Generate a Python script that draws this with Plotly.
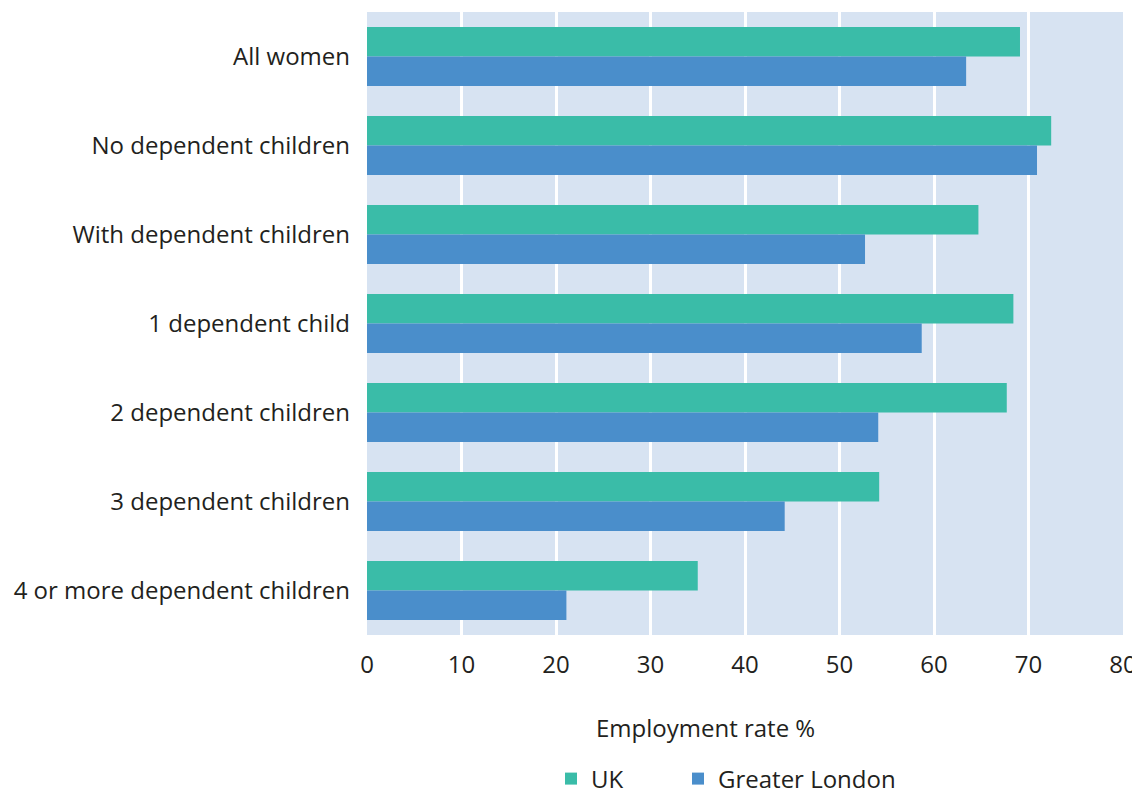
import plotly.graph_objects as go

categories = ["All women", "No dependent children", "With dependent children",
              "1 dependent child", "2 dependent children", "3 dependent children",
              "4 or more dependent children"]
uk = [69.1, 72.4, 64.7, 68.4, 67.7, 54.2, 35.0]
london = [63.4, 70.9, 52.7, 58.7, 54.1, 44.2, 21.1]
x_ticks = [0, 10, 20, 30, 40, 50, 60, 70, 80]

FONT = "Open Sans"
OFF = 8  # page body margin
W, H = 1140 - OFF, 793 - OFF
PL, PR, PT, PB = 367 - OFF, 1123 - OFF, 12 - OFF, 635 - OFF
PW, PH = PR - PL, PB - PT


def px_x(px):
    return (px - OFF - PL) / PW


def px_y(py):
    return -(py - OFF - PB) / PH


fig = go.Figure()
fig.add_trace(go.Bar(y=categories, x=uk, name="UK", orientation="h",
                     marker=dict(color="#3ABCA8", line=dict(width=0)),
                     legend="legend"))
fig.add_trace(go.Bar(y=categories, x=london, name="Greater London", orientation="h",
                     marker=dict(color="#4A8ECB", line=dict(width=0)),
                     legend="legend2"))

leg_common = dict(orientation="h", xanchor="left", yanchor="middle",
                  y=px_y(779), font=dict(size=24, family=FONT), itemwidth=30)
fig.update_layout(
    width=W, height=H,
    margin=dict(l=PL, r=W - PR, t=PT, b=H - PB, autoexpand=False),
    barmode="group", bargap=0.335, bargroupgap=0,
    plot_bgcolor="#D7E3F2", paper_bgcolor="white",
    font=dict(family=FONT, size=24, color="#231F20"),
    showlegend=True,
    legend=dict(x=px_x(551), **leg_common),
    legend2=dict(x=px_x(678), **leg_common),
    xaxis=dict(range=[0, 80], tickvals=x_ticks, showgrid=True, gridcolor="white",
               gridwidth=2.5, zeroline=False, showline=False,
               tickfont=dict(size=24, family=FONT), ticklabelstandoff=13),
    yaxis=dict(autorange="reversed", showgrid=False, zeroline=False,
               tickfont=dict(size=24, family=FONT), ticklabelstandoff=16),
)
fig.add_annotation(text="Employment rate %", xref="x domain", yref="y domain",
                   x=px_x(705), y=px_y(728),
                   xanchor="center", yanchor="middle", showarrow=False,
                   font=dict(size=24, family=FONT))
fig.write_html("out.html")
